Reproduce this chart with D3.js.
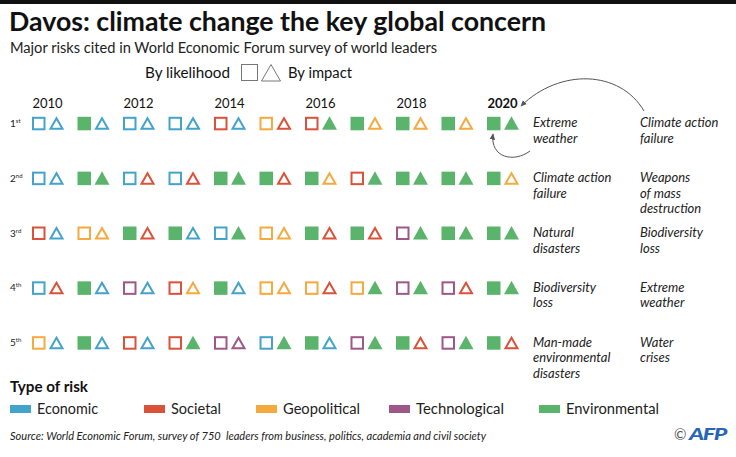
<!DOCTYPE html>
<html>
<head>
<meta charset="utf-8">
<script src="https://cdn.jsdelivr.net/npm/d3@7"></script>
<style>
  html, body { margin: 0; padding: 0; background: #fff; }
  svg { display: block; font-family: Lato, "Open Sans", "Noto Sans", sans-serif; }
</style>
</head>
<body>
<svg id="chart" width="736" height="457"></svg>
<script>
// ---------- DATA ----------
const years = [2010, 2011, 2012, 2013, 2014, 2015, 2016, 2017, 2018, 2019, 2020];
const yearLabels = [2010, 2012, 2014, 2016, 2018, 2020];
const ranks = ["1", "2", "3", "4", "5"];
const rankSuffix = ["st", "nd", "rd", "th", "th"];

const riskTypes = ["Economic", "Societal", "Geopolitical", "Technological", "Environmental"];
const riskColors = ["#43a3cb", "#da5239", "#f4aa3f", "#9d5888", "#5bb46b"];

// category of top risks by likelihood, one row per rank, one entry per year
const likelihoodRank1 = ["Economic","Environmental","Economic","Economic","Societal","Geopolitical","Societal","Environmental","Environmental","Environmental","Environmental"];
const likelihoodRank2 = ["Economic","Environmental","Economic","Economic","Environmental","Environmental","Environmental","Societal","Environmental","Environmental","Environmental"];
const likelihoodRank3 = ["Societal","Geopolitical","Environmental","Environmental","Economic","Geopolitical","Environmental","Environmental","Technological","Environmental","Environmental"];
const likelihoodRank4 = ["Economic","Environmental","Technological","Societal","Environmental","Geopolitical","Geopolitical","Geopolitical","Technological","Technological","Environmental"];
const likelihoodRank5 = ["Geopolitical","Environmental","Societal","Societal","Technological","Economic","Environmental","Technological","Environmental","Technological","Environmental"];

// category of top risks by impact
const impactRank1 = ["Economic","Economic","Economic","Economic","Economic","Societal","Environmental","Geopolitical","Geopolitical","Geopolitical","Environmental"];
const impactRank2 = ["Economic","Environmental","Societal","Societal","Environmental","Societal","Geopolitical","Environmental","Environmental","Environmental","Geopolitical"];
const impactRank3 = ["Economic","Geopolitical","Societal","Economic","Environmental","Geopolitical","Societal","Societal","Environmental","Environmental","Environmental"];
const impactRank4 = ["Societal","Economic","Economic","Geopolitical","Economic","Geopolitical","Societal","Environmental","Environmental","Societal","Environmental"];
const impactRank5 = ["Economic","Economic","Economic","Environmental","Technological","Environmental","Economic","Environmental","Societal","Environmental","Societal"];

const likelihood = [likelihoodRank1, likelihoodRank2, likelihoodRank3, likelihoodRank4, likelihoodRank5];
const impact = [impactRank1, impactRank2, impactRank3, impactRank4, impactRank5];

// 2020 top risks named
const top2020Likelihood = [["Extreme", "weather"], ["Climate action", "failure"], ["Natural", "disasters"], ["Biodiversity", "loss"], ["Man-made", "environmental", "disasters"]];
const top2020Impact = [["Climate action", "failure"], ["Weapons", "of mass", "destruction"], ["Biodiversity", "loss"], ["Extreme", "weather"], ["Water", "crises"]];

const titleText = "Davos: climate change the key global concern";
const subtitleText = "Major risks cited in World Economic Forum survey of world leaders";
const sourceText = "Source: World Economic Forum, survey of 750  leaders from business, politics, academia and civil society";

// ---------- DRAW ----------
const svg = d3.select("#chart");
const color = d3.scaleOrdinal().domain(riskTypes).range(riskColors);
const x = d3.scaleLinear().domain([2010, 2020]).range([32, 487]);
const y = d3.scalePoint().domain(ranks).range([123.3, 342.7]);

function fit(sel, w) {
  const node = sel.node();
  const fs = parseFloat(sel.attr("font-size"));
  const cur = node.getComputedTextLength();
  if (cur > 0) sel.attr("font-size", (fs * w / cur).toFixed(2));
  return sel;
}

// top rule
svg.append("rect").attr("x", 0).attr("y", 0).attr("width", 736).attr("height", 4).attr("fill", "#111");

// title / subtitle
svg.append("text").attr("x", 9).attr("y", 31).attr("font-size", 26.5).attr("font-weight", 700)
  .attr("fill", "#111").attr("textLength", 537).attr("lengthAdjust", "spacingAndGlyphs").text(titleText);
svg.append("text").attr("x", 10).attr("y", 53).attr("font-size", 15.5).attr("fill", "#222")
  .attr("textLength", 427).attr("lengthAdjust", "spacingAndGlyphs").text(subtitleText);

// shape legend
svg.append("text").attr("x", 230).attr("y", 78).attr("text-anchor", "end").attr("font-size", 15.5)
  .attr("fill", "#111").attr("textLength", 85).attr("lengthAdjust", "spacingAndGlyphs").text("By likelihood");
svg.append("rect").attr("x", 241.5).attr("y", 64.5).attr("width", 16).attr("height", 16)
  .attr("fill", "none").attr("stroke", "#777").attr("stroke-width", 1);
svg.append("path").attr("d", "M271,64.5 L280.5,81 L261.5,81 Z")
  .attr("fill", "none").attr("stroke", "#777").attr("stroke-width", 1);
svg.append("text").attr("x", 288).attr("y", 78).attr("font-size", 15.5)
  .attr("fill", "#111").attr("textLength", 64).attr("lengthAdjust", "spacingAndGlyphs").text("By impact");

// year labels
svg.append("g").selectAll("text").data(yearLabels).join("text")
  .attr("x", d => x(d) + 15.5).attr("y", 108).attr("text-anchor", "middle")
  .attr("font-size", 13).attr("font-weight", d => d === 2020 ? 700 : 400)
  .attr("fill", "#111").text(d => d);

// rank labels
const rl = svg.append("g").selectAll("text").data(ranks).join("text")
  .attr("x", 10).attr("y", d => y(d) + 3.5).attr("font-size", 10).attr("fill", "#222");
rl.append("tspan").text(d => d);
rl.append("tspan").attr("font-size", 6).attr("dy", -4).text((d, i) => rankSuffix[i]);

// marks
const cells = [];
ranks.forEach((r, ri) => {
  years.forEach((yr, yi) => {
    cells.push({ rank: r, year: yr, kind: "likelihood", cat: likelihood[ri][yi] });
    cells.push({ rank: r, year: yr, kind: "impact", cat: impact[ri][yi] });
  });
});
const isFilled = c => c === "Environmental";

const marks = svg.append("g");
marks.selectAll("rect").data(cells.filter(d => d.kind === "likelihood")).join("rect")
  .attr("x", d => isFilled(d.cat) ? x(d.year) : x(d.year) + 1)
  .attr("y", d => isFilled(d.cat) ? y(d.rank) - 6.5 : y(d.rank) - 5.5)
  .attr("width", d => isFilled(d.cat) ? 13.5 : 11.5)
  .attr("height", d => isFilled(d.cat) ? 13.5 : 11.5)
  .attr("fill", d => isFilled(d.cat) ? color(d.cat) : "none")
  .attr("stroke", d => isFilled(d.cat) ? "none" : color(d.cat))
  .attr("stroke-width", 2);

function tri(cx, cy, filled) {
  const p = d3.path();
  if (filled) {
    p.moveTo(cx, cy - 7); p.lineTo(cx + 7.5, cy + 6.5); p.lineTo(cx - 7.5, cy + 6.5); p.closePath();
  } else {
    p.moveTo(cx, cy - 5); p.lineTo(cx + 6, cy + 5.5); p.lineTo(cx - 6, cy + 5.5); p.closePath();
  }
  return p.toString();
}
marks.selectAll("path").data(cells.filter(d => d.kind === "impact")).join("path")
  .attr("d", d => tri(x(d.year) + 24.5, y(d.rank), isFilled(d.cat)))
  .attr("fill", d => isFilled(d.cat) ? color(d.cat) : "none")
  .attr("stroke", d => isFilled(d.cat) ? "none" : color(d.cat))
  .attr("stroke-width", 2).attr("stroke-linejoin", "miter");

// 2020 annotations
function annot(list, x0) {
  const g = svg.append("g");
  list.forEach((lines, i) => {
    const t = g.append("text").attr("x", x0).attr("y", y(ranks[i]) + 4)
      .attr("font-size", 13).attr("font-style", "italic").attr("fill", "#222");
    lines.forEach((ln, j) => t.append("tspan").attr("x", x0).attr("dy", j === 0 ? 0 : 15.5).text(ln));
  });
}
annot(top2020Likelihood, 533);
annot(top2020Impact, 640);

// arrows
const defs = svg.append("defs");
defs.append("marker").attr("id", "ah").attr("viewBox", "0 0 10 10").attr("refX", 8).attr("refY", 5)
  .attr("markerWidth", 7).attr("markerHeight", 7).attr("orient", "auto-start-reverse")
  .append("path").attr("d", "M0,1 L9,5 L0,9 Z").attr("fill", "#555");
const a1 = d3.path(); a1.moveTo(644, 111); a1.bezierCurveTo(620, 70, 560, 68, 521, 106);
const a2 = d3.path(); a2.moveTo(530, 151); a2.bezierCurveTo(514, 163, 490, 158, 493, 134);
svg.append("path").attr("d", a1.toString()).attr("fill", "none").attr("stroke", "#555").attr("stroke-width", 1).attr("marker-end", "url(#ah)");
svg.append("path").attr("d", a2.toString()).attr("fill", "none").attr("stroke", "#555").attr("stroke-width", 1).attr("marker-end", "url(#ah)");

// type legend
svg.append("text").attr("x", 10).attr("y", 392).attr("font-size", 15.5).attr("font-weight", 700)
  .attr("fill", "#111").attr("textLength", 78).attr("lengthAdjust", "spacingAndGlyphs").text("Type of risk");
const legX = [10, 144, 256, 389, 539];
const legW = [61, 50, 77, 88, 93];
const lg = svg.append("g").selectAll("g").data(riskTypes).join("g")
  .attr("transform", (d, i) => `translate(${legX[i]},0)`);
lg.append("rect").attr("x", 0).attr("y", 405).attr("width", 21).attr("height", 8).attr("fill", d => color(d));
lg.append("text").attr("x", 27).attr("y", 414).attr("font-size", 15.5).attr("fill", "#222")
  .attr("textLength", (d, i) => legW[i]).attr("lengthAdjust", "spacingAndGlyphs").text(d => d);

// source
svg.append("text").attr("x", 10).attr("y", 440).attr("font-size", 11.5).attr("font-style", "italic")
  .attr("fill", "#222").attr("xml:space", "preserve").style("white-space", "pre")
  .attr("textLength", 476).attr("lengthAdjust", "spacingAndGlyphs").text(sourceText);

// AFP credit
svg.append("text").attr("x", 674).attr("y", 440).attr("font-size", 15).attr("fill", "#555").text("©");
svg.append("text").attr("x", 689).attr("y", 440).attr("font-size", 17).attr("font-weight", 900)
  .attr("font-style", "italic").attr("fill", "#2766b4").attr("letter-spacing", -1)
  .attr("textLength", 37).attr("lengthAdjust", "spacingAndGlyphs").text("AFP");
</script>
</body>
</html>
